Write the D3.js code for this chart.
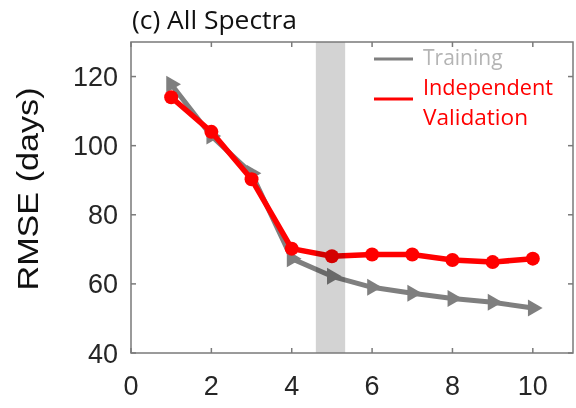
<!DOCTYPE html>
<html><head><meta charset="utf-8">
<script src="https://cdn.jsdelivr.net/npm/d3@7"></script>
<style>body{margin:0;background:#fff}svg{display:block}</style>
</head><body>
<script>
const components = [1,2,3,4,5,6,7,8,9,10];
const training = [117.8,102.8,92.0,67.3,62.2,59.0,57.3,55.8,54.7,53.0];
const validation = [114.0,104.0,90.3,70.2,68.0,68.5,68.5,66.9,66.3,67.3];
const xTicks = [0,2,4,6,8,10];
const yTicks = [40,60,80,100,120];
const band = [4.6,5.33];
const title = "(c) All Spectra";
const yLabel = "RMSE (days)";
const legendNames = ["Training","Independent","Validation"];

const W=576,H=408;
const svg=d3.select("body").append("svg").attr("width",W).attr("height",H);
const x=d3.scaleLinear().domain([0,11]).range([131,573]);
const y=d3.scaleLinear().domain([40,130]).range([353,42]);
const axisCol="#7a7a7a", txtCol="#262626";

// lines
const line=d3.line().x((d,i)=>x(components[i])).y(d=>y(d));
svg.append("path").datum(training).attr("d",line).attr("fill","none")
  .attr("stroke","#7f7f7f").attr("stroke-width",5).attr("stroke-linejoin","round");
const tri=d3.symbol().type(d3.symbolTriangle).size(125);
svg.selectAll(".tri").data(training).join("path")
  .attr("d",tri).attr("fill","#7f7f7f")
  .attr("transform",(d,i)=>`translate(${x(components[i])},${y(d)}) rotate(90)`);
svg.append("path").datum(validation).attr("d",line).attr("fill","none")
  .attr("stroke","#ff0000").attr("stroke-width",5.5).attr("stroke-linejoin","round");
svg.selectAll(".dot").data(validation).join("circle")
  .attr("cx",(d,i)=>x(components[i])).attr("cy",d=>y(d)).attr("r",7).attr("fill","#ff0000");

// band (multiply)
svg.append("rect").attr("x",x(band[0])).attr("width",x(band[1])-x(band[0]))
  .attr("y",y(130)).attr("height",y(40)-y(130)).attr("fill","#d3d3d3")
  .style("mix-blend-mode","multiply");

// box axes
const g=svg.append("g").attr("stroke",axisCol).attr("stroke-width",1.5).attr("fill","none");
g.append("rect").attr("x",x(0)).attr("y",y(130)).attr("width",x(11)-x(0)).attr("height",y(40)-y(130));
xTicks.forEach(t=>{
  g.append("line").attr("x1",x(t)).attr("x2",x(t)).attr("y1",y(40)).attr("y2",y(40)-5);
  g.append("line").attr("x1",x(t)).attr("x2",x(t)).attr("y1",y(130)).attr("y2",y(130)+5);
});
yTicks.forEach(t=>{
  g.append("line").attr("y1",y(t)).attr("y2",y(t)).attr("x1",x(0)).attr("x2",x(0)+5);
  g.append("line").attr("y1",y(t)).attr("y2",y(t)).attr("x1",x(11)).attr("x2",x(11)-5);
});

// tick labels
svg.selectAll(".xt").data(xTicks).join("text").attr("x",d=>x(d)).attr("y",395)
  .attr("text-anchor","middle").attr("font-family","Liberation Sans, Arial").attr("font-size",27)
  .attr("fill",txtCol).text(d=>d);
svg.selectAll(".yt").data(yTicks).join("text").attr("x",118).attr("y",d=>y(d)+9.5)
  .attr("text-anchor","end").attr("font-family","Liberation Sans, Arial").attr("font-size",27)
  .attr("fill",txtCol).text(d=>d);

// y label
svg.append("text").attr("transform","translate(38,189) rotate(-90)").attr("text-anchor","middle")
  .attr("font-family","Liberation Sans, Arial").attr("font-size",30).attr("fill","#111")
  .attr("textLength",203).attr("lengthAdjust","spacingAndGlyphs").text(yLabel);

// title
svg.append("text").attr("x",132).attr("y",29).attr("font-family","Open Sans").attr("font-size",25)
  .attr("fill","#111").attr("textLength",165).attr("lengthAdjust","spacingAndGlyphs").text(title);

// legend
svg.append("line").attr("x1",374).attr("x2",413).attr("y1",59).attr("y2",59)
  .attr("stroke","#7f7f7f").attr("stroke-width",3);
svg.append("line").attr("x1",374).attr("x2",413).attr("y1",99).attr("y2",99)
  .attr("stroke","#ff0000").attr("stroke-width",3);
svg.append("text").attr("x",423).attr("y",65).attr("font-family","Open Sans").attr("font-size",21)
  .attr("fill","#b4b4b4").text(legendNames[0]);
svg.append("text").attr("x",423).attr("y",95).attr("font-family","Open Sans").attr("font-size",21)
  .attr("fill","#ff0000").attr("textLength",130).attr("lengthAdjust","spacingAndGlyphs").text(legendNames[1]);
svg.append("text").attr("x",423).attr("y",125).attr("font-family","Open Sans").attr("font-size",21)
  .attr("fill","#ff0000").attr("textLength",105).attr("lengthAdjust","spacingAndGlyphs").text(legendNames[2]);
</script>
</body></html>
